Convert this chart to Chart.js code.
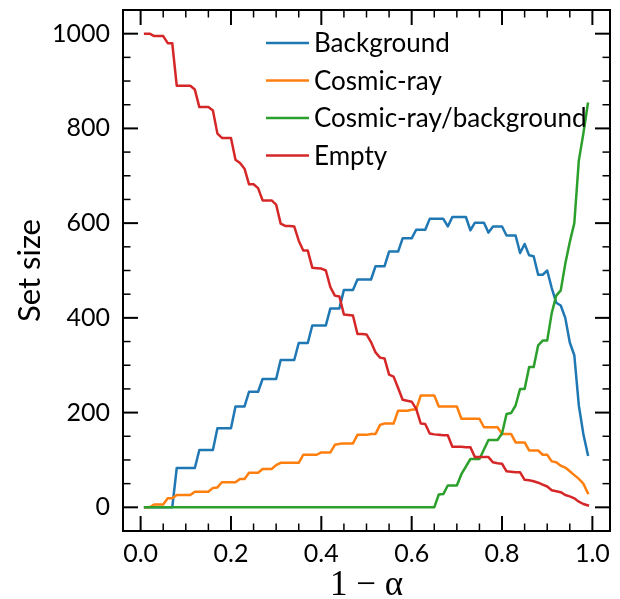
<!DOCTYPE html>
<html>
<head>
<meta charset="utf-8">
<script src="https://cdn.jsdelivr.net/npm/chart.js@4.4.0/dist/chart.umd.min.js"></script>
<style>
html,body{margin:0;padding:0;background:#fff;}
canvas{display:block;}
</style>
</head>
<body>
<canvas id="c" width="620" height="599"></canvas>
<script>
// ---- data ----
const alpha = [0.01,0.02,0.03,0.04,0.05,0.06,0.07,0.08,0.09,0.10,
  0.11,0.12,0.13,0.14,0.15,0.16,0.17,0.18,0.19,0.20,
  0.21,0.22,0.23,0.24,0.25,0.26,0.27,0.28,0.29,0.30,
  0.31,0.32,0.33,0.34,0.35,0.36,0.37,0.38,0.39,0.40,
  0.41,0.42,0.43,0.44,0.45,0.46,0.47,0.48,0.49,0.50,
  0.51,0.52,0.53,0.54,0.55,0.56,0.57,0.58,0.59,0.60,
  0.61,0.62,0.63,0.64,0.65,0.66,0.67,0.68,0.69,0.70,
  0.71,0.72,0.73,0.74,0.75,0.76,0.77,0.78,0.79,0.80,
  0.81,0.82,0.83,0.84,0.85,0.86,0.87,0.88,0.89,0.90,
  0.91,0.92,0.93,0.94,0.95,0.96,0.97,0.98,0.99];

const background = [0,0,0,0,0,0,0,83,83,83,
  83,83,121,121,121,121,167,167,167,167,
  213,213,213,244,244,244,271,271,271,271,
  311,311,311,311,347,347,347,384,384,384,
  384,420,420,420,459,459,459,481,481,481,
  481,509,509,509,540,540,540,568,568,568,
  586,586,586,609,609,609,609,593,613,613,
  613,613,585,601,601,601,580,593,593,593,
  574,574,574,537,556,532,530,491,491,500,
  463,432,426,400,348,321,215,155,111];

const cosmicRay = [0,0,6,6,6,19,19,26,26,26,
  26,33,33,33,33,41,42,53,53,53,
  53,60,60,73,73,73,81,81,81,89,
  94,94,94,94,94,111,111,111,111,116,
  116,116,132,134,135,135,135,153,153,153,
  155,155,174,177,177,177,204,204,204,206,
  207,236,236,236,236,213,213,213,213,213,
  187,187,187,187,187,169,169,169,169,155,
  155,155,137,137,137,120,120,120,111,111,
  97,95,88,84,76,68,60,50,30];

const cosmicRayBackground = [0,0,0,0,0,0,0,0,0,0,
  0,0,0,0,0,0,0,0,0,0,
  0,0,0,0,0,0,0,0,0,0,
  0,0,0,0,0,0,0,0,0,0,
  0,0,0,0,0,0,0,0,0,0,
  0,0,0,0,0,0,0,0,0,0,
  0,0,0,0,0,27,28,46,46,46,
  70,86,102,102,102,122,142,142,142,156,
  197,199,215,250,250,296,296,342,352,352,
  410,447,458,514,560,600,732,789,852];

const empty = [1000,1000,995,995,995,980,980,890,890,890,
  890,882,845,845,845,838,789,780,780,780,
  734,727,715,682,682,674,648,648,648,639,
  599,594,594,593,563,542,542,506,505,504,
  500,465,447,445,407,406,405,366,366,365,
  349,327,316,314,280,276,252,227,225,223,
  208,177,176,156,154,153,152,152,128,128,
  128,127,127,106,106,106,106,95,93,92,
  76,75,74,74,58,57,55,52,48,44,
  36,34,32,26,23,19,12,7,4];

const seriesLabels = ['Background','Cosmic-ray','Cosmic-ray/background','Empty'];
const seriesColors = ['#1f77b4','#ff7f0e','#2ca02c','#d62728'];

const xTicks = [0.0,0.2,0.4,0.6,0.8,1.0];
const xMinorTicks = [0.05,0.1,0.15,0.25,0.3,0.35,0.45,0.5,0.55,0.65,0.7,0.75,0.85,0.9,0.95];
const yTicks = [0,200,400,600,800,1000];
const yMinorTicks = [50,100,150,250,300,350,450,500,550,650,700,750,850,900,950];

const FONT = 'Lato';

function pts(arr){ return alpha.map((x,i)=>({x:x, y:arr[i]})); }

// frame + inward ticks on all four sides
const frameTicks = {
  id:'frameTicks',
  afterDatasetsDraw(chart){
    const {ctx, chartArea:a, scales:{x, y}} = chart;
    ctx.save();
    ctx.strokeStyle = '#000';
    const seg = (x0,y0,x1,y1)=>{ctx.beginPath();ctx.moveTo(x0,y0);ctx.lineTo(x1,y1);ctx.stroke();};
    ctx.lineWidth = 1.5;
    xMinorTicks.forEach(v=>{const p=x.getPixelForValue(v); seg(p,a.bottom,p,a.bottom-7.5); seg(p,a.top,p,a.top+7.5);});
    yMinorTicks.forEach(v=>{const p=y.getPixelForValue(v); seg(a.left,p,a.left+7.5,p); seg(a.right,p,a.right-7.5,p);});
    ctx.lineWidth = 2;
    x.ticks.forEach(t=>{const p=x.getPixelForValue(t.value); seg(p,a.bottom,p,a.bottom-15); seg(p,a.top,p,a.top+15);});
    y.ticks.forEach(t=>{const p=y.getPixelForValue(t.value); seg(a.left,p,a.left+15,p); seg(a.right,p,a.right-15,p);});
    ctx.strokeRect(a.left, a.top, a.right-a.left, a.bottom-a.top);
    ctx.restore();
  }
};

// legend drawn inside plot area, no frame
const innerLegend = {
  id:'innerLegend',
  afterDraw(chart){
    const {ctx, chartArea:a} = chart;
    ctx.save();
    ctx.font = '26px ' + FONT;
    ctx.textBaseline = 'middle';
    ctx.textAlign = 'left';
    chart.data.datasets.forEach((ds,i)=>{
      const yy = a.top + 33 + 37.5*i;
      const x0 = a.left + 143;
      ctx.strokeStyle = ds.borderColor;
      ctx.lineWidth = 2.5;
      ctx.beginPath(); ctx.moveTo(x0,yy); ctx.lineTo(x0+43,yy); ctx.stroke();
      ctx.fillStyle = '#000';
      ctx.fillText(ds.label, x0+48, yy+1);
    });
    ctx.restore();
  }
};

const datasets = [background, cosmicRay, cosmicRayBackground, empty].map((arr,i)=>({
  label: seriesLabels[i],
  data: pts(arr),
  borderColor: seriesColors[i],
  backgroundColor: seriesColors[i],
  order: 4 - i
}));

new Chart(document.getElementById('c'), {
  type:'line',
  data:{datasets},
  options:{
    responsive:false,
    animation:false,
    devicePixelRatio:1,
    layout:{padding:{left:0,right:10,top:10,bottom:0}},
    elements:{
      point:{radius:0, hoverRadius:0},
      line:{borderWidth:2.5, tension:0, borderCapStyle:'square', borderJoinStyle:'round', fill:false}
    },
    plugins:{legend:{display:false}, tooltip:{enabled:false}},
    scales:{
      x:{
        type:'linear', min:-0.039, max:1.039,
        grid:{display:false, drawTicks:false},
        border:{display:false},
        afterBuildTicks:(s)=>{ s.ticks = xTicks.map(v=>({value:v})); },
        afterFit:(s)=>{ s.height = 68; s.paddingLeft = 0; s.paddingRight = 0; },
        ticks:{padding:8, color:'#000', font:{family:FONT, size:25}, maxRotation:0, autoSkip:false,
               callback:(v)=>Number(v).toFixed(1)},
        title:{display:true, text:'1 − α', color:'#000',
               font:{family:'Liberation Serif', size:35, lineHeight:0.75}, padding:{top:0,bottom:0}}
      },
      y:{
        type:'linear', min:-50, max:1050,
        grid:{display:false, drawTicks:false},
        border:{display:false},
        afterBuildTicks:(s)=>{ s.ticks = yTicks.map(v=>({value:v})); },
        afterFit:(s)=>{ s.width = 123; s.paddingTop = 0; s.paddingBottom = 0; },
        ticks:{padding:13, color:'#000', font:{family:FONT, size:25}, autoSkip:false,
               callback:(v)=>String(v)},
        title:{display:true, text:'Set size', color:'#000',
               font:{family:FONT, size:31, lineHeight:1}, padding:{top:14,bottom:0}}
      }
    }
  },
  plugins:[frameTicks, innerLegend]
});
</script>
</body>
</html>
